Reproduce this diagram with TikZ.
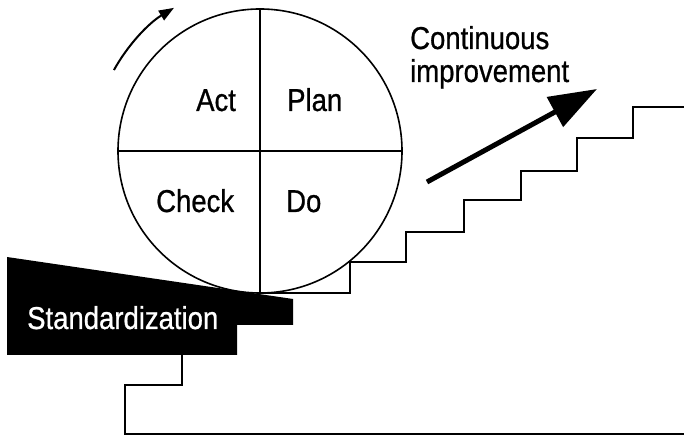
\documentclass[tikz,border=0pt]{standalone}
\usepackage{fontspec}
\setmainfont{Liberation Sans}
\newfontfamily\heavyfont{Liberation Sans}[BoldFont=Liberation Sans, BoldFeatures={FakeBold=0.8}]
\usetikzlibrary{arrows.meta,calc}
\newcommand\stretchtext[1]{\scalebox{1}[1.15]{#1}}
\tikzset{
  outline/.style={line width=1.4pt, black},
  lbl/.style={anchor=base west, inner sep=0pt, font=\heavyfont\bfseries\fontsize{27.5}{30}\selectfont},
}
\begin{document}
\begin{tikzpicture}[x=1pt,y=1pt]
\useasboundingbox (0,0) rectangle (684,438);
% staircase
\draw[outline] (684,4) -- (125,4) -- (125,53) -- (182,53) -- (182,83);
\draw[outline] (260,145) -- (350,145) -- (350,176) -- (406,176) -- (406,206)
  -- (464,206) -- (464,238) -- (521,238) -- (521,267) -- (577,267)
  -- (577,300) -- (633,300) -- (633,331) -- (684,331);
% PDCA wheel
\coordinate (c) at (260,287);
\draw[outline, line width=1.6pt, fill=white] (c) circle[radius=142];
\draw[outline] (118,287) -- (402,287);
\draw[outline] (260,429) -- (260,145);
% standardization wedge
\fill[black] (7,181) -- (293,139) -- (293,113) -- (237,113) -- (237,83) -- (7,83) -- cycle;
% labels
\node[lbl] (act) at (196,327) {\stretchtext{Act}};
\node[lbl] (plan) at (287,327) {\stretchtext{Plan}};
\node[lbl] (check) at (156,226) {\stretchtext{Check}};
\node[lbl] (do) at (286,226) {\stretchtext{Do}};
\node[lbl, text=white] (std) at (27,109) {\stretchtext{Standardization}};
\node[lbl] (cont) at (410,389) {\stretchtext{Continuous}};
\node[lbl] (impr) at (410,356) {\stretchtext{improvement}};
% rotation arrow
\draw[line width=2pt, -{Triangle[length=15pt,width=11pt]}]
  ($(c)+(151:167)$) arc[start angle=151, end angle=121, radius=167];
% improvement arrow
\coordinate (a0) at (427,256);
\coordinate (a1) at (597,349);
\draw[line width=5pt, -{Triangle[length=48pt,width=33pt]}] (a0) -- (a1);
\end{tikzpicture}
\end{document}
